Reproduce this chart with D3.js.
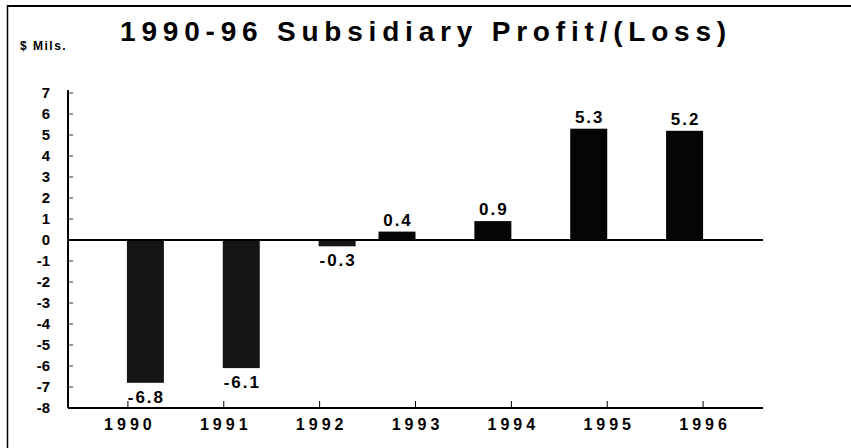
<!DOCTYPE html>
<html>
<head>
<meta charset="utf-8">
<script src="https://cdn.jsdelivr.net/npm/d3@7"></script>
<style>
  body { margin: 0; background: #fff; }
  svg { display: block; font-family: "Liberation Sans", Arial, sans-serif; font-weight: bold; }
</style>
</head>
<body>
<div id="chart"></div>
<script>
// data
const years = ["1990", "1991", "1992", "1993", "1994", "1995", "1996"]
const profit = [-6.8, -6.1, -0.3, 0.4, 0.9, 5.3, 5.2]
const yTicks = [7, 6, 5, 4, 3, 2, 1, 0, -1, -2, -3, -4, -5, -6, -7, -8]

const width = 851
const height = 448
const plotLeft = 68, plotRight = 763, plotTop = 93, plotBottom = 408

const svg = d3.select("#chart")
  .append("svg")
    .attr("width", width)
    .attr("height", height)

// frame (top and left edges only)
svg.append("line").attr("x1", 7).attr("x2", width).attr("y1", 6).attr("y2", 6)
  .attr("stroke", "#000").attr("stroke-width", 2)
svg.append("line").attr("x1", 7.5).attr("x2", 7.5).attr("y1", 5).attr("y2", height)
  .attr("stroke", "#000").attr("stroke-width", 1.5)

// title
svg.append("text")
  .attr("x", 426).attr("y", 41)
  .attr("text-anchor", "middle")
  .style("font-size", "28px")
  .style("letter-spacing", "5.8px")
  .text("1990-96 Subsidiary Profit/(Loss)")

svg.append("text")
  .attr("x", 20).attr("y", 50)
  .style("font-size", "12px")
  .style("letter-spacing", "1.5px")
  .text("$ Mils.")

// scales
const x = d3.scalePoint()
  .domain(years)
  .range([plotLeft, plotRight])
  .padding(0.625)

const y = d3.scaleLinear()
  .domain([-8, 7])
  .range([plotBottom, plotTop])

// y axis
svg.append("line").attr("x1", plotLeft).attr("x2", plotLeft).attr("y1", plotTop - 3).attr("y2", plotBottom)
  .attr("stroke", "#000").attr("stroke-width", 2)

svg.append("g")
  .selectAll("line")
  .data(yTicks)
  .join("line")
    .attr("x1", plotLeft).attr("x2", plotLeft + 5)
    .attr("y1", d => y(d)).attr("y2", d => y(d))
    .attr("stroke", "#333").attr("stroke-width", 1)

svg.append("g")
  .selectAll("text")
  .data(yTicks)
  .join("text")
    .attr("x", 50)
    .attr("y", d => y(d) + 5)
    .attr("text-anchor", "end")
    .style("font-size", "15px")
    .text(d => d)

// bottom axis
svg.append("line").attr("x1", plotLeft).attr("x2", plotRight).attr("y1", plotBottom).attr("y2", plotBottom)
  .attr("stroke", "#000").attr("stroke-width", 2)

svg.append("g")
  .selectAll("line")
  .data(years)
  .join("line")
    .attr("x1", d => x(d)).attr("x2", d => x(d))
    .attr("y1", plotBottom).attr("y2", plotBottom - 7)
    .attr("stroke", "#000").attr("stroke-width", 1)

svg.append("g")
  .selectAll("text")
  .data(years)
  .join("text")
    .attr("x", d => x(d) + 2)
    .attr("y", 430)
    .attr("text-anchor", "middle")
    .style("font-size", "16px")
    .style("letter-spacing", "4px")
    .text(d => d)

// bars: the first three start at their tick, the rest end at it
const barW = 37
const barX = i => i < 3 ? x(years[i]) - 1 : x(years[i]) - barW

const data = profit.map((v, i) => ({ year: years[i], value: v, i: i }))

svg.append("g")
  .selectAll("rect")
  .data(data)
  .join("rect")
    .attr("x", d => barX(d.i))
    .attr("width", barW)
    .attr("y", d => y(Math.max(0, d.value)))
    .attr("height", d => Math.abs(y(d.value) - y(0)))
    .attr("fill", d => d.value < 0 ? "#151515" : "#050505")

// zero line
svg.append("line").attr("x1", plotLeft).attr("x2", plotRight).attr("y1", y(0)).attr("y2", y(0))
  .attr("stroke", "#000").attr("stroke-width", 2)

// value labels
svg.append("g")
  .selectAll("text")
  .data(data)
  .join("text")
    .attr("x", d => barX(d.i) + barW / 2 + 1)
    .attr("y", d => d.value < 0 ? y(d.value) + 20 : y(d.value) - 6)
    .attr("text-anchor", "middle")
    .style("font-size", "17px")
    .style("letter-spacing", "2px")
    .text(d => d.value.toFixed(1))
</script>
</body>
</html>
